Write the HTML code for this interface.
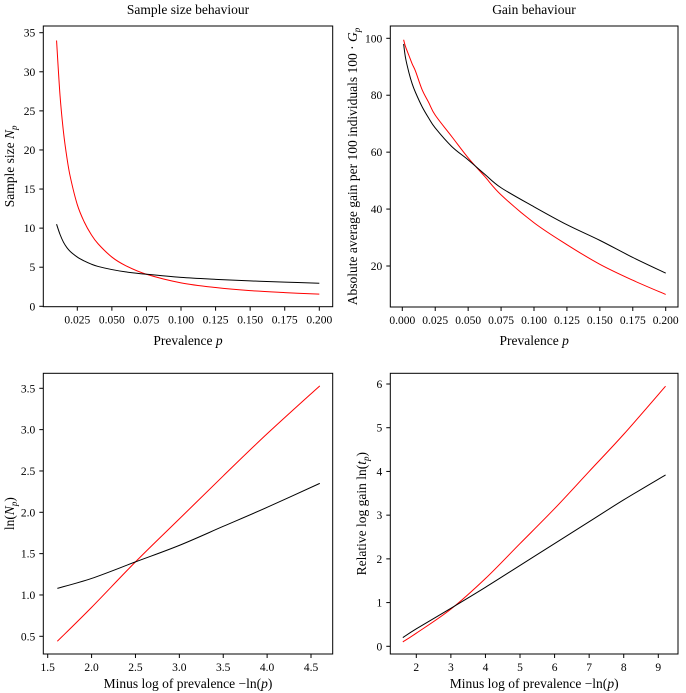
<!DOCTYPE html>
<html><head><meta charset="utf-8">
<style>
body{margin:0;background:#fff;}
svg{display:block;font-family:"Liberation Serif",serif;}
svg text{font-family:"Liberation Serif",serif;fill:#000;}
</style></head>
<body>
<svg id="fig" width="686" height="693">
<text x="188" y="14" font-size="13.5" text-anchor="middle" font-family="Liberation Serif, serif">Sample size behaviour</text>
<text x="534" y="14" font-size="13.5" text-anchor="middle" font-family="Liberation Serif, serif">Gain behaviour</text>
</svg>
<script>
// Panel 1: sample size vs prevalence
const p1X = [0.01,0.0125,0.015,0.0175,0.02,0.025,0.03,0.035,0.04,0.05,0.06,0.075,0.1,0.125,0.15,0.175,0.2];
const p1Red = [34,27,22.3,19,16.5,13,10.8,9.2,8,6.3,5.2,4.1,3.0,2.4,2.0,1.75,1.55];
const p1Black = [10.5,9.2,8.2,7.5,7.0,6.3,5.8,5.4,5.1,4.7,4.4,4.1,3.7,3.45,3.25,3.1,2.95];
const p1XTicks = [0.025,0.05,0.075,0.1,0.125,0.15,0.175,0.2];
const p1XLabels = ["0.025","0.050","0.075","0.100","0.125","0.150","0.175","0.200"];
const p1YTicks = [0,5,10,15,20,25,30,35];
// Panel 2: gain vs prevalence
const p2X = [0.001,0.0025,0.005,0.0075,0.01,0.015,0.02,0.025,0.0375,0.05,0.0625,0.075,0.1,0.125,0.15,0.175,0.2];
const p2Red = [99.5,97,94,91,88.5,82,77.5,73,65.5,58,51.5,45,35.2,27.5,20.6,15,10];
const p2Black = [98,93,88,84,81,76,72,68.5,62,57.3,52.3,47.5,40.8,34.5,29,23,17.5];
const p2XTicks = [0,0.025,0.05,0.075,0.1,0.125,0.15,0.175,0.2];
const p2XLabels = ["0.000","0.025","0.050","0.075","0.100","0.125","0.150","0.175","0.200"];
const p2YTicks = [20,40,60,80,100];
// Panel 3: ln(N) vs -ln(p)
const p3X = [1.61,2,2.5,3,3.5,4,4.6];
const p3Red = [0.44,0.85,1.4,1.92,2.44,2.95,3.53];
const p3Black = [1.08,1.2,1.4,1.6,1.83,2.06,2.35];
const p3XTicks = [1.5,2,2.5,3,3.5,4,4.5];
const p3XLabels = ["1.5","2.0","2.5","3.0","3.5","4.0","4.5"];
const p3YTicks = [0.5,1,1.5,2,2.5,3,3.5];
const p3YLabels = ["0.5","1.0","1.5","2.0","2.5","3.0","3.5"];
// Panel 4: relative log gain vs -ln(p)
const p4X = [1.61,2,3,4,5,6,7,8,9.21];
const p4Red = [0.1,0.3,0.85,1.55,2.35,3.15,4.0,4.85,5.95];
const p4Black = [0.2,0.4,0.87,1.35,1.85,2.35,2.85,3.35,3.92];
const p4XTicks = [2,3,4,5,6,7,8,9];
const p4YTicks = [0,1,2,3,4,5,6];

const NS="http://www.w3.org/2000/svg";
const FF="Liberation Serif, serif";
const svg=document.getElementById('fig');
function mk(tag,attrs,parent){const e=document.createElementNS(NS,tag);for(const k in attrs)e.setAttribute(k,attrs[k]);(parent||svg).appendChild(e);return e;}
function smoothPath(P){
  let d='M'+P[0][0].toFixed(2)+','+P[0][1].toFixed(2);
  for(let i=0;i<P.length-1;i++){
    const p0=P[Math.max(i-1,0)],p1=P[i],p2=P[i+1],p3=P[Math.min(i+2,P.length-1)];
    const c1x=p1[0]+(p2[0]-p0[0])/6,c1y=p1[1]+(p2[1]-p0[1])/6;
    const c2x=p2[0]-(p3[0]-p1[0])/6,c2y=p2[1]-(p3[1]-p1[1])/6;
    d+=` C${c1x.toFixed(2)},${c1y.toFixed(2)} ${c2x.toFixed(2)},${c2y.toFixed(2)} ${p2[0].toFixed(2)},${p2[1].toFixed(2)}`;
  }
  return d;
}

function panel(cfg){
  const g=mk('g',{});
  
  
  const sx=v=>cfg.x0px+(v-cfg.x0)*(cfg.x1px-cfg.x0px)/(cfg.x1-cfg.x0);
  const sy=v=>cfg.y0px+(v-cfg.y0)*(cfg.y1px-cfg.y0px)/(cfg.y1-cfg.y0);
  const f=mk('rect',{x:cfg.L,y:cfg.T,width:cfg.R-cfg.L,height:cfg.B-cfg.T,fill:'none',stroke:'#000','stroke-width':1},g);
  
  
  cfg.xt.forEach((t,i)=>{
    const x=sx(t);
    mk('line',{x1:x,x2:x,y1:cfg.B,y2:cfg.B+4,stroke:'#000'},g);
    const tx=mk('text',{x:x,y:cfg.B+17,'font-size':11.5,'text-anchor':'middle','font-family':FF},g);
    tx.textContent=cfg.xl?cfg.xl[i]:String(t);
    
    
  });
  cfg.yt.forEach((t,i)=>{
    const y=sy(t);
    mk('line',{x1:cfg.L-4,x2:cfg.L,y1:y,y2:y,stroke:'#000'},g);
    const tx=mk('text',{x:cfg.L-8,y:y+4,'font-size':11.5,'text-anchor':'end','font-family':FF},g);
    tx.textContent=cfg.yl?cfg.yl[i]:String(t);
    
    
  });
  [[cfg.red,'red','red-series'],[cfg.black,'#000','black-series']].forEach(([ys,c,n])=>{
    const P=cfg.xs.map((v,i)=>[sx(v),sy(ys[i])]);
    const pl=mk('path',{d:smoothPath(P),fill:'none',stroke:c,'stroke-width':1},g);
    
    
  });
  const xl=mk('text',{x:(cfg.L+cfg.R)/2,y:cfg.xlabY,'font-size':13.5,'text-anchor':'middle','font-family':FF},g);
  xl.innerHTML=cfg.xlab;
  
  
  const cy=(cfg.T+cfg.B)/2;
  const yl=mk('text',{x:cfg.ylabX,y:cy,'font-size':13.5,'text-anchor':'middle','font-family':FF,transform:`rotate(-90 ${cfg.ylabX} ${cy})`},g);
  yl.innerHTML=cfg.ylab;
  
  
}

panel({name:'sample-size-panel',L:43.3,R:332.7,T:26,B:306.7,
  x0:0.025,x1:0.2,x0px:77.3,x1px:319.3,y0:0,y1:35,y0px:306.3,y1px:32.7,
  xs:p1X,red:p1Red,black:p1Black,xt:p1XTicks,xl:p1XLabels,yt:p1YTicks,
  xlab:'Prevalence <tspan font-style="italic">p</tspan>',xlabY:345,
  ylab:'Sample size <tspan font-style="italic">N</tspan><tspan font-style="italic" font-size="9" dy="3">p</tspan>',ylabX:14});
panel({name:'gain-panel',L:390.3,R:678,T:26,B:307,
  x0:0,x1:0.2,x0px:402.3,x1px:665.7,y0:20,y1:100,y0px:266,y1px:38.3,
  xs:p2X,red:p2Red,black:p2Black,xt:p2XTicks,xl:p2XLabels,yt:p2YTicks,
  xlab:'Prevalence <tspan font-style="italic">p</tspan>',xlabY:345,
  ylab:'Absolute average gain per 100 individuals 100 · <tspan font-style="italic">G</tspan><tspan font-style="italic" font-size="9" dy="3">p</tspan>',ylabX:357});
panel({name:'log-sample-size-panel',L:43.3,R:332.7,T:373.3,B:654,
  x0:1.5,x1:4.5,x0px:47.7,x1px:311,y0:0.5,y1:3.5,y0px:636.3,y1px:388.3,
  xs:p3X,red:p3Red,black:p3Black,xt:p3XTicks,xl:p3XLabels,yt:p3YTicks,yl:p3YLabels,
  xlab:'Minus log of prevalence  −ln(<tspan font-style="italic">p</tspan>)',xlabY:688,
  ylab:'ln(<tspan font-style="italic">N</tspan><tspan font-style="italic" font-size="9" dy="3">p</tspan><tspan dy="-3">)</tspan>',ylabX:14});
panel({name:'relative-log-gain-panel',L:390.3,R:678,T:373.3,B:654,
  x0:2,x1:9,x0px:416.3,x1px:658.3,y0:0,y1:6,y0px:646.3,y1px:384,
  xs:p4X,red:p4Red,black:p4Black,xt:p4XTicks,yt:p4YTicks,
  xlab:'Minus log of prevalence  −ln(<tspan font-style="italic">p</tspan>)',xlabY:688,
  ylab:'Relative log gain  ln(<tspan font-style="italic">t</tspan><tspan font-style="italic" font-size="9" dy="3">p</tspan><tspan dy="-3">)</tspan>',ylabX:366});
</script>
</body></html>
